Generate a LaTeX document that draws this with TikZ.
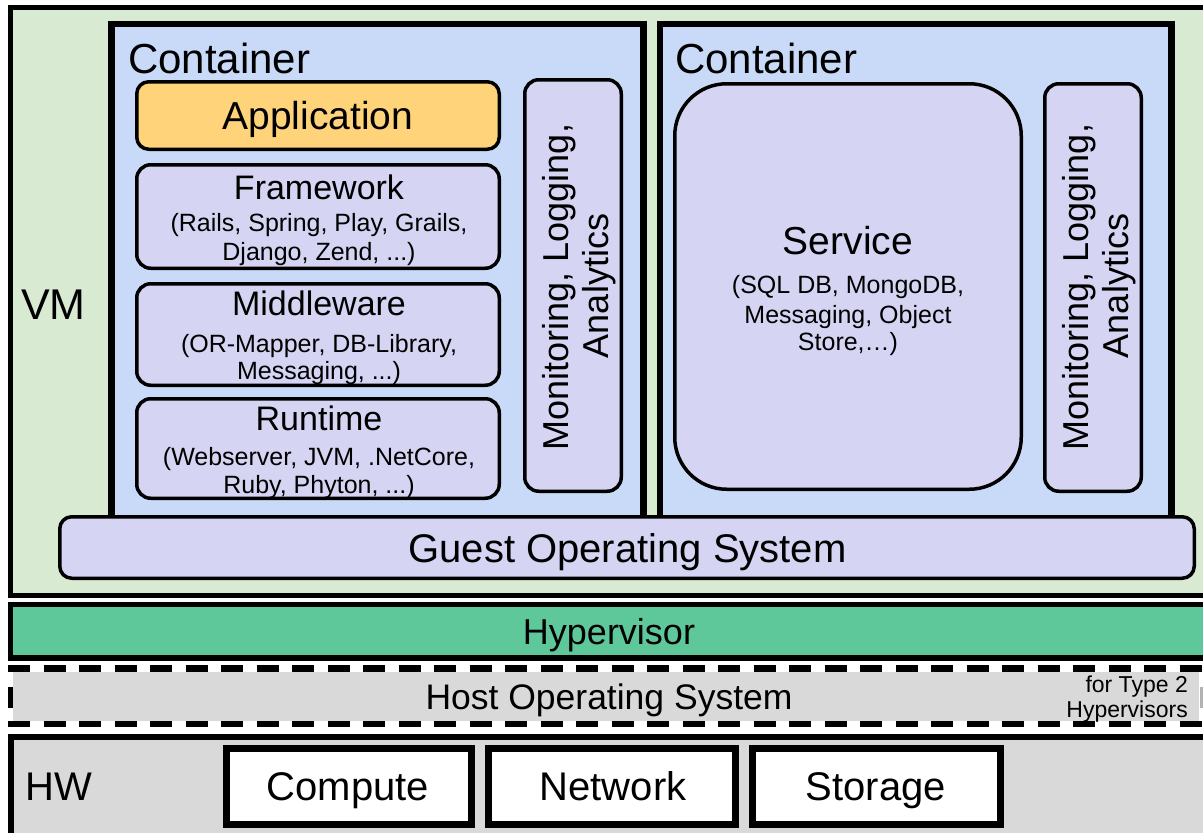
\documentclass[tikz,border=0pt]{standalone}
\usepackage{fontspec}
\setmainfont{Liberation Sans}
\definecolor{vmgreen}{HTML}{D9EAD3}
\definecolor{ctblue}{HTML}{C9DAF8}
\definecolor{lavender}{HTML}{D5D5F3}
\definecolor{appyellow}{HTML}{FFD37A}
\definecolor{hvgreen}{HTML}{5FC89B}
\definecolor{hwgray}{HTML}{D9D9D9}
\newcommand\fsz[1]{\fontsize{#1}{#1}\selectfont}
\begin{document}
\begin{tikzpicture}[x=1pt,y=-1pt,
  box/.style={inner sep=0pt,outer sep=0pt,draw=black},
  vmbox/.style={box,line width=5pt,fill=vmgreen},
  ctbox/.style={box,line width=6.5pt,fill=ctblue},
  layer/.style={box,line width=3.5pt,fill=lavender,rounded corners=14pt},
  appbox/.style={layer,fill=appyellow,rounded corners=12pt},
  svcbox/.style={layer,rounded corners=52pt},
  hvbox/.style={box,line width=5.5pt,fill=hvgreen},
  hwbox/.style={box,line width=6pt,fill=hwgray},
  unitbox/.style={box,line width=7pt,fill=white},
  hostfill/.style={inner sep=0pt,outer sep=0pt,fill=hwgray},
  hostline/.style={line width=6.5pt,black,line cap=butt},
  txt/.style={inner sep=0pt,anchor=base,text=black},
  vtxt/.style={txt,rotate=90,font=\fsz{36}},
  title/.style={txt,font=\fsz{34}},
  detail/.style={txt,font=\fsz{25}},
]
\useasboundingbox (0,0) rectangle (1203,833);
\clip (0,0) rectangle (1203,833);
\fill[white] (0,0) rectangle (1203,833);

% virtual machine
\node[vmbox,minimum width=1209.5pt,minimum height=588pt] (vm) at (615.25,301.5) {};
\node[txt,anchor=base west,font=\fsz{43}] (vmlabel) at (21,319) {VM};

% containers
\node[ctbox,minimum width=532pt,minimum height=516pt] (c1) at (377.5,282) {};
\node[ctbox,minimum width=511.5pt,minimum height=516pt] (c2) at (915.75,282) {};
\node[txt,anchor=base west,font=\fsz{42}] (c1label) at (128,73) {Container};
\node[txt,anchor=base west,font=\fsz{42}] (c2label) at (675,73) {Container};

% application stack
\node[appbox,minimum width=362.5pt,minimum height=67.5pt] (app) at (318,115.5) {};
\node[txt,font=\fsz{39}] (apptext) at (318,129) {Application};

\node[layer,minimum width=362.5pt,minimum height=103.5pt] (fw) at (318,216.5) {};
\node[title] (fw0) at (319,199) {Framework};
\node[detail] (fw1) at (319,231) {(Rails, Spring, Play, Grails,};
\node[detail] (fw2) at (319,260) {Django, Zend, ...)};

\node[layer,minimum width=362.5pt,minimum height=101.5pt] (mw) at (318,334.5) {};
\node[title] (mw0) at (319,315) {Middleware};
\node[detail] (mw1) at (319,352) {(OR-Mapper, DB-Library,};
\node[detail] (mw2) at (319,379) {Messaging, ...)};

\node[layer,minimum width=362.5pt,minimum height=99.5pt] (rt) at (318,448.5) {};
\node[title] (rt0) at (319,430) {Runtime};
\node[detail] (rt1) at (319,465) {(Webserver, JVM, .NetCore,};
\node[detail] (rt2) at (319,493) {Ruby, Phyton, ...)};

% monitoring columns
\node[layer,minimum width=96.5pt,minimum height=411.5pt] (mon1) at (573,285.5) {};
\node[vtxt] (mon1a) at (568,287) {Monitoring, Logging,};
\node[vtxt] (mon1b) at (608,286) {Analytics};

\node[layer,minimum width=96.5pt,minimum height=407.5pt] (mon2) at (1093,287.5) {};
\node[vtxt] (mon2a) at (1088,287) {Monitoring, Logging,};
\node[vtxt] (mon2b) at (1128,286) {Analytics};

% service
\node[svcbox,minimum width=346.5pt,minimum height=405.5pt] (svc) at (848,286.5) {};
\node[txt,font=\fsz{39}] (svc0) at (848,254) {Service};
\node[detail] (svc1) at (848,293) {(SQL DB, MongoDB,};
\node[detail] (svc2) at (848,323) {Messaging, Object};
\node[detail] (svc3) at (848,350) {Store,…)};

% guest operating system
\node[layer,rounded corners=12pt,minimum width=1134.5pt,minimum height=61.5pt] (guest) at (627,547.5) {};
\node[txt,font=\fsz{40}] (guesttext) at (627.5,562) {Guest Operating System};

% hypervisor
\node[hvbox,minimum width=1209.5pt,minimum height=53.5pt] (hv) at (615.25,631.25) {};
\node[txt,font=\fsz{36}] (hvtext) at (609,644) {Hypervisor};

% host operating system (dashed, optional layer)
\node[hostfill,minimum width=1186pt,minimum height=49pt] (host) at (606,696.5) {};
\coordinate (h-nw) at (8,668.5);
\coordinate (h-ne) at (1215,668.5);
\coordinate (h-sw) at (8,724);
\coordinate (h-se) at (1215,724);
\coordinate (h-lt) at (10.5,668.5);
\coordinate (h-lb) at (10.5,724);
\coordinate (h-rt) at (1201.5,668.5);
\coordinate (h-rb) at (1201.5,724);
\draw[hostline,dash pattern=on 22pt off 13.5pt] (h-nw) -- (h-ne);
\draw[hostline,dash pattern=on 22pt off 13.5pt] (h-sw) -- (h-se);
\draw[line width=5pt,black,dash pattern=on 0pt off 18.5pt on 21pt off 40pt] (h-lt) -- (h-lb);
\draw[line width=3pt,black!30,dash pattern=on 0pt off 18.5pt on 21pt off 40pt] (h-rt) -- (h-rb);
\node[txt,font=\fsz{35.5}] (hosttext) at (609,709) {Host Operating System};
\node[txt,anchor=base east,font=\fsz{23}] (type2a) at (1188,692) {for Type 2};
\node[txt,anchor=base east,font=\fsz{23}] (type2b) at (1188,717) {Hypervisors};

% hardware
\node[hwbox,minimum width=1209.5pt,minimum height=123.5pt] (hw) at (615.25,798.25) {};
\node[txt,anchor=base west,font=\fsz{40}] (hwtext) at (25,800) {HW};
\node[unitbox,minimum width=245pt,minimum height=76pt] (compute) at (349,786.5) {};
\node[unitbox,minimum width=247pt,minimum height=76pt] (network) at (612,786.5) {};
\node[unitbox,minimum width=248pt,minimum height=76pt] (storage) at (876.5,786.5) {};
\node[txt,font=\fsz{40}] (computetext) at (348,800) {Compute};
\node[txt,font=\fsz{40}] (networktext) at (613,800) {Network};
\node[txt,font=\fsz{40}] (storagetext) at (876,800) {Storage};
\end{tikzpicture}
\end{document}
